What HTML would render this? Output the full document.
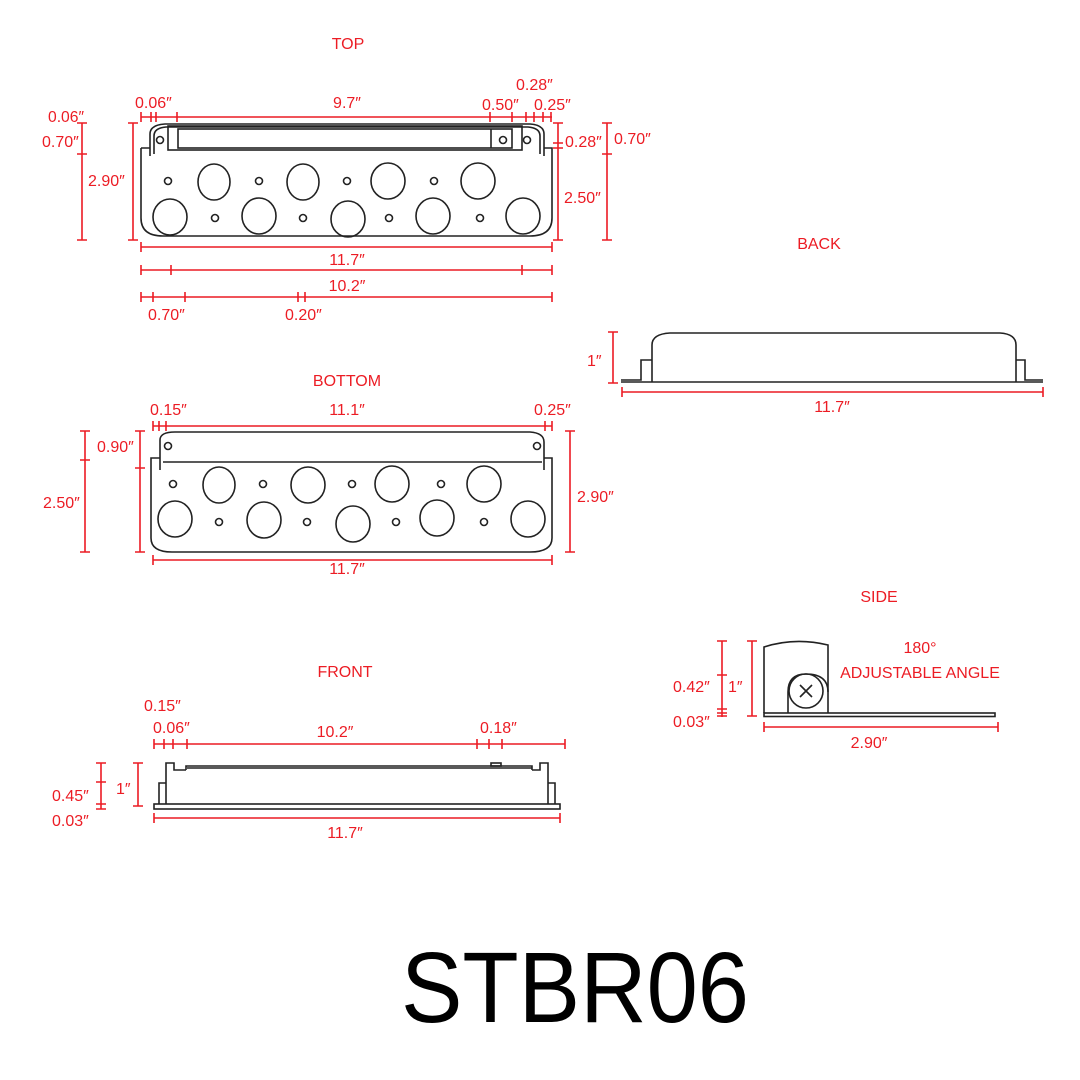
<!DOCTYPE html>
<html><head><meta charset="utf-8"><style>
html,body{margin:0;padding:0;background:#fff;}
svg{display:block}
.r{stroke:#ec1c24;stroke-width:1.6;fill:none}
.k{stroke:#222;stroke-width:1.6;fill:none}
.kf{stroke:#222;stroke-width:1.6;fill:#fff}
text{font-family:"Liberation Sans",sans-serif;fill:#ec1c24;font-size:16px}
</style></head><body>
<svg width="1080" height="1080" viewBox="0 0 1080 1080" xmlns="http://www.w3.org/2000/svg">
<!-- TOP -->
<text x="348" y="49" text-anchor="middle">TOP</text>
<text x="48" y="122" textLength="36" lengthAdjust="spacingAndGlyphs">0.06″</text>
<text x="42" y="147">0.70″</text>
<text x="88" y="186">2.90″</text>
<text x="135" y="108">0.06″</text>
<text x="347" y="108" text-anchor="middle">9.7″</text>
<text x="482" y="110">0.50″</text>
<text x="516" y="90">0.28″</text>
<text x="534" y="110">0.25″</text>
<text x="565" y="147">0.28″</text>
<text x="614" y="144">0.70″</text>
<text x="564" y="203">2.50″</text>
<text x="347" y="265" text-anchor="middle">11.7″</text>
<text x="347" y="291" text-anchor="middle">10.2″</text>
<text x="148" y="320">0.70″</text>
<text x="285" y="320">0.20″</text>
<g class="r">
<path d="M141 117H552 M141 112v10 M151 112v10 M156 112v10 M177 112v10 M490 112v10 M512 112v10 M526 112v10 M534 112v10 M543 112v10 M551 112v10"/>
<path d="M82 123V240 M77 123h10 M77 154h10 M77 240h10"/>
<path d="M133 123V240 M128 123h10 M128 240h10"/>
<path d="M558 123V240 M553 123h10 M553 143h10 M553 148h10 M553 240h10"/>
<path d="M607 123V240 M602 123h10 M602 154h10 M602 240h10"/>
<path d="M141 247H552 M141 242v10 M552 242v10"/>
<path d="M141 270H552 M141 265v10 M171 265v10 M522 265v10 M552 265v10"/>
<path d="M141 297H552 M141 292v10 M153 292v10 M185 292v10 M298 292v10 M305 292v10 M552 292v10"/>
</g>
<g class="k">
<path d="M141 148H150 M544 148H552 V218 Q552 236 530 236 H163 Q141 236 141 218 V148"/>
<path d="M150 156V134 Q150 125 165 124 H530 Q544 125 544 134 V156"/>
<path d="M154 154V136 Q154 128 166 127 H528 Q540 128 540 136 V154"/>
<rect x="168" y="126" width="354" height="24"/>
<rect x="178" y="129" width="334" height="19"/>
<path d="M491 129V148"/>
<circle cx="160" cy="140" r="3.5"/><circle cx="503" cy="140" r="3.5"/><circle cx="527" cy="140" r="3.5"/>
<ellipse cx="214" cy="182" rx="16" ry="18"/><ellipse cx="303" cy="182" rx="16" ry="18"/><ellipse cx="388" cy="181" rx="17" ry="18"/><ellipse cx="478" cy="181" rx="17" ry="18"/>
<ellipse cx="170" cy="217" rx="17" ry="18"/><ellipse cx="259" cy="216" rx="17" ry="18"/><ellipse cx="348" cy="219" rx="17" ry="18"/><ellipse cx="433" cy="216" rx="17" ry="18"/><ellipse cx="523" cy="216" rx="17" ry="18"/>
<circle cx="168" cy="181" r="3.5"/><circle cx="259" cy="181" r="3.5"/><circle cx="347" cy="181" r="3.5"/><circle cx="434" cy="181" r="3.5"/>
<circle cx="215" cy="218" r="3.5"/><circle cx="303" cy="218" r="3.5"/><circle cx="389" cy="218" r="3.5"/><circle cx="480" cy="218" r="3.5"/>
</g>

<!-- BACK -->
<text x="819" y="249" text-anchor="middle">BACK</text>
<text x="587" y="366">1″</text>
<text x="832" y="412" text-anchor="middle">11.7″</text>
<g class="r">
<path d="M613 332V383 M608 332h10 M608 383h10"/>
<path d="M622 392H1043 M622 387v10 M1043 387v10"/>
</g>
<g class="k">
<path d="M621 382H1043 M621 380H641V360H652 M652 382V345 Q652 334 670 333 H1000 Q1016 334 1016 345 V382 M1016 360H1025V380H1043"/>
</g>

<!-- BOTTOM -->
<text x="347" y="386" text-anchor="middle">BOTTOM</text>
<text x="150" y="415">0.15″</text>
<text x="347" y="415" text-anchor="middle">11.1″</text>
<text x="534" y="415">0.25″</text>
<text x="97" y="452">0.90″</text>
<text x="43" y="508">2.50″</text>
<text x="577" y="502">2.90″</text>
<text x="347" y="574" text-anchor="middle">11.7″</text>
<g class="r">
<path d="M153 426H552 M153 421v10 M159 421v10 M166 421v10 M545 421v10 M552 421v10"/>
<path d="M85 431V552 M80 431h10 M80 460h10 M80 552h10"/>
<path d="M140 431V552 M135 431h10 M135 468h10 M135 552h10"/>
<path d="M570 431V552 M565 431h10 M565 552h10"/>
<path d="M153 560H552 M153 555v10 M552 555v10"/>
</g>
<g class="k">
<path d="M160 458H151 V538 Q151 552 172 552 H530 Q552 552 552 538 V458 H544"/>
<path d="M160 470 V440 Q160 432 175 432 H530 Q544 433 544 442 V470"/>
<path d="M163 462H542"/>
<circle cx="168" cy="446" r="3.5"/><circle cx="537" cy="446" r="3.5"/>
<ellipse cx="219" cy="485" rx="16" ry="18"/><ellipse cx="308" cy="485" rx="17" ry="18"/><ellipse cx="392" cy="484" rx="17" ry="18"/><ellipse cx="484" cy="484" rx="17" ry="18"/>
<ellipse cx="175" cy="519" rx="17" ry="18"/><ellipse cx="264" cy="520" rx="17" ry="18"/><ellipse cx="353" cy="524" rx="17" ry="18"/><ellipse cx="437" cy="518" rx="17" ry="18"/><ellipse cx="528" cy="519" rx="17" ry="18"/>
<circle cx="173" cy="484" r="3.5"/><circle cx="263" cy="484" r="3.5"/><circle cx="352" cy="484" r="3.5"/><circle cx="441" cy="484" r="3.5"/>
<circle cx="219" cy="522" r="3.5"/><circle cx="307" cy="522" r="3.5"/><circle cx="396" cy="522" r="3.5"/><circle cx="484" cy="522" r="3.5"/>
</g>

<!-- FRONT -->
<text x="345" y="677" text-anchor="middle">FRONT</text>
<text x="144" y="711">0.15″</text>
<text x="153" y="733">0.06″</text>
<text x="335" y="737" text-anchor="middle">10.2″</text>
<text x="480" y="733">0.18″</text>
<text x="52" y="801">0.45″</text>
<text x="116" y="794">1″</text>
<text x="52" y="826">0.03″</text>
<text x="345" y="838" text-anchor="middle">11.7″</text>
<g class="r">
<path d="M154 744H565 M154 739v10 M164 739v10 M173 739v10 M187 739v10 M477 739v10 M489 739v10 M502 739v10 M565 739v10"/>
<path d="M101 763V809 M96 763h10 M96 782h10 M96 804h10 M96 809h10"/>
<path d="M138 763V806 M133 763h10 M133 806h10"/>
<path d="M154 818H560 M154 813v10 M560 813v10"/>
</g>
<g class="k">
<rect x="154" y="804" width="406" height="5"/>
<path d="M159 804V783H166 M166 804V763H174V770H186 M186 770V766H532V770 M187 768H532 M532 770H540V763H548V804 M548 783H555V804"/>
<rect x="491" y="763" width="10" height="3"/>
</g>

<!-- SIDE -->
<text x="879" y="602" text-anchor="middle">SIDE</text>
<text x="920" y="653" text-anchor="middle">180°</text>
<text x="920" y="678" text-anchor="middle">ADJUSTABLE ANGLE</text>
<text x="673" y="692">0.42″</text>
<text x="728" y="692">1″</text>
<text x="673" y="727">0.03″</text>
<text x="869" y="748" text-anchor="middle">2.90″</text>
<g class="r">
<path d="M722 641V717 M717 641h10 M717 675h10 M717 709h10 M717 713h10 M717 716h10"/>
<path d="M752 641V716 M747 641h10 M747 716h10"/>
<path d="M764 727H998 M764 722v10 M998 722v10"/>
</g>
<g class="k">
<path d="M764 713V647 Q795 637 828 645 V713"/>
<path d="M788 713V692 Q788 674 806 674 Q828 674 828 692"/>
<circle cx="806" cy="691" r="17"/>
<path d="M800 685l12 12 M812 685l-12 12"/>
<rect x="764" y="713" width="231" height="3.5"/>
</g>

<text x="575" y="1022" text-anchor="middle" style="fill:#000;font-size:100px" textLength="348" lengthAdjust="spacingAndGlyphs">STBR06</text>
</svg>
</body></html>
